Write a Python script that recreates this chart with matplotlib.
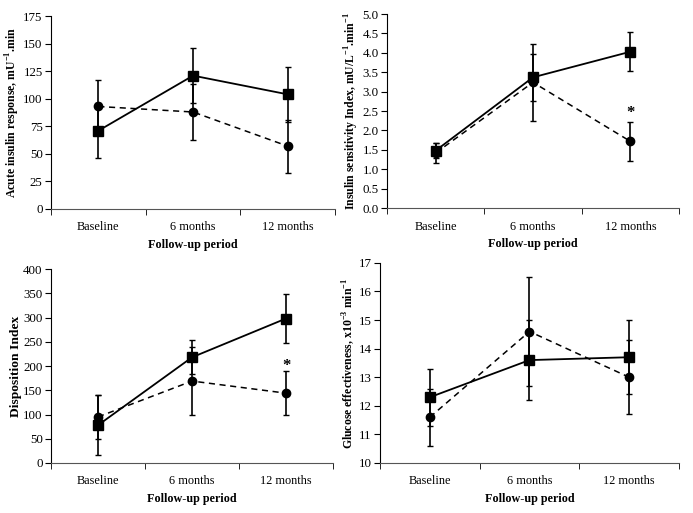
import matplotlib.pyplot as plt
from matplotlib.ticker import FixedLocator

plt.rcParams['font.family'] = ['Liberation Serif', 'DejaVu Serif']
plt.rcParams['mathtext.fontset'] = 'custom'
plt.rcParams['mathtext.rm'] = 'Liberation Serif'
plt.rcParams['mathtext.bf'] = 'Liberation Serif:bold'

periods = ['Baseline', '6 months', '12 months']

# painel 1 - acute insulin response
air_sq = [71, 121, 104]
air_sq_err = [25, 25, 25]
air_ci = [93, 88, 57]
air_ci_err = [24, 25, 24]

# painel 2 - insulin sensitivity
si_sq = [1.48, 3.37, 4.03]
si_sq_err = [0.2, 0.6, 0.5]
si_ci = [1.42, 3.24, 1.72]
si_ci_err = [0.25, 0.99, 0.5]

# painel 3 - disposition index
di_sq = [78, 218, 298]
di_sq_err = [62, 35, 51]
di_ci = [95, 169, 144]
di_ci_err = [46, 71, 46]

# painel 4 - glucose effectiveness
sg_sq = [12.3, 13.6, 13.7]
sg_sq_err = [1.0, 1.4, 1.3]
sg_ci = [11.6, 14.6, 13.0]
sg_ci_err = [1.0, 1.9, 1.3]

fig = plt.figure(figsize=(6.93, 5.13), dpi=100)

def painel(rect, sq, sq_err, ci, ci_err, ylim, step, ylabel, fmt, star=None, ylsize=8.5):
    ax = fig.add_axes(rect)
    x = [1, 2, 3]
    ax.errorbar(x, ci, yerr=ci_err, fmt='--o', color='black', lw=1.1,
                ms=6, capsize=2, elinewidth=1.2, dashes=(4, 3))
    ax.errorbar(x, sq, yerr=sq_err, fmt='-s', color='black', lw=1.3,
                ms=6.5, capsize=2, elinewidth=1.2)
    ax.set_xlim(0.5, 3.5)
    ax.set_ylim(*ylim)
    ticks = []
    v = ylim[0]
    while v <= ylim[1] + 1e-9:
        ticks.append(v)
        v += step
    ax.set_yticks(ticks)
    ax.set_yticklabels([fmt % t for t in ticks])
    ax.set_xticks(x)
    ax.set_xticklabels(periods)
    ax.xaxis.set_minor_locator(FixedLocator([0.5, 1.5, 2.5, 3.5]))
    ax.tick_params(axis='x', which='major', length=0, pad=9, labelsize=8.8)
    ax.tick_params(axis='x', which='minor', length=4, direction='out')
    ax.tick_params(axis='y', length=4, direction='out', labelsize=9.3, pad=2)
    ax.spines['top'].set_visible(False)
    ax.spines['right'].set_visible(False)
    ax.spines['bottom'].set_color('#555555')
    ax.set_xlabel('Follow-up period', fontweight='bold', fontsize=8.7, labelpad=4)
    ax.set_ylabel(ylabel, fontweight='bold', fontsize=ylsize, labelpad=1)
    if star is not None:
        ax.text(3, star, '*', ha='center', va='center', fontsize=12, fontweight='bold')
    return ax

painel([0.0736, 0.5926, 0.41, 0.376], air_sq, air_sq_err, air_ci, air_ci_err,
       (0, 175), 25, r'Acute insulin response, mU$^{\mathbf{-1}}$.min', '%d')
painel([0.5584, 0.5945, 0.4214, 0.378], si_sq, si_sq_err, si_ci, si_ci_err,
       (0, 5.0), 0.5, r'Insulin sensitivity Index, mU/L$^{\mathbf{-1}}$.min$^{\mathbf{-1}}$', '%.1f',
       star=2.45)
painel([0.0736, 0.0975, 0.407, 0.378], di_sq, di_sq_err, di_ci, di_ci_err,
       (0, 400), 50, 'Disposition Index', '%d', star=200, ylsize=9.7)
painel([0.5483, 0.0975, 0.4315, 0.39], sg_sq, sg_sq_err, sg_ci, sg_ci_err,
       (10, 17), 1, r'Glucose effectiveness, x10$^{\mathbf{-3}}$ min$^{\mathbf{-1}}$', '%d')

fig.savefig('out.png', dpi=100)
